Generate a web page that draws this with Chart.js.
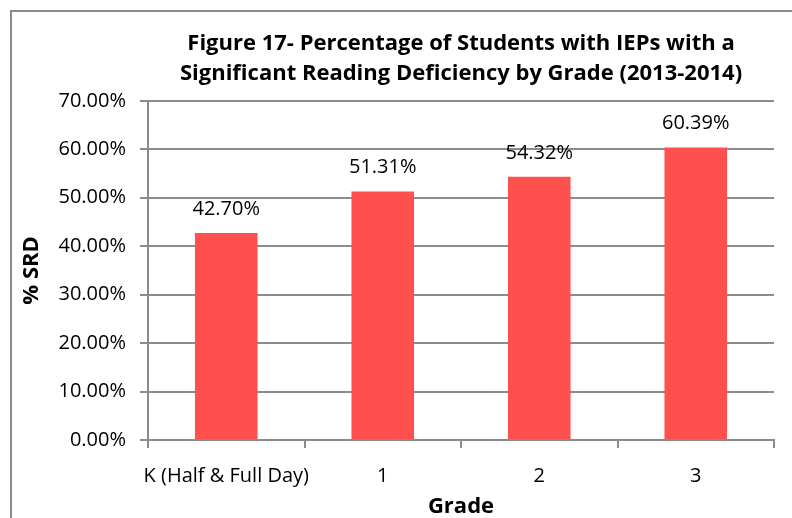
<!DOCTYPE html>
<html>
<head>
<meta charset="utf-8">
<script src="https://cdn.jsdelivr.net/npm/chart.js@4"></script>
<style>
  html, body { margin: 0; padding: 0; background: #fff; }
  #wrap { width: 792px; height: 518px; position: relative; }
</style>
</head>
<body>
<div id="wrap"><canvas id="chart" width="792" height="518"></canvas></div>
<script>
const grades = ['K (Half & Full Day)', '1', '2', '3'];
const srd_percent = [42.70, 51.31, 54.32, 60.39];
const title_lines = [
  'Figure 17- Percentage of Students with IEPs with a',
  'Significant Reading Deficiency by Grade (2013-2014)'
];

const font_family = "'Open Sans', 'Noto Sans', sans-serif"
const grid_color = '#8c8c8c'

// outer frame like the excel chart area (cut off at right/bottom)
const frame = {
  id: 'frame',
  beforeDraw(chart) {
    const ctx = chart.ctx
    ctx.save()
    ctx.fillStyle = '#fff'
    ctx.fillRect(0, 0, chart.width, chart.height)
    ctx.strokeStyle = '#8c8c8c'
    ctx.lineWidth = 2
    ctx.strokeRect(11, 11, chart.width + 20, chart.height + 20)
    ctx.restore()
  }
}

// value labels above each bar
const bar_labels = {
  id: 'bar_labels',
  afterDatasetsDraw(chart) {
    const ctx = chart.ctx
    const meta = chart.getDatasetMeta(0)
    ctx.save()
    ctx.font = '20px ' + font_family
    ctx.fillStyle = '#000'
    ctx.textAlign = 'center'
    ctx.textBaseline = 'middle'
    meta.data.forEach((bar, i) => {
      ctx.fillText(srd_percent[i].toFixed(2) + '%', bar.x, bar.y - 24)
    })
    ctx.restore()
  }
}

new Chart(document.getElementById('chart'), {
  type: 'bar',
  data: {
    labels: grades,
    datasets: [{
      data: srd_percent,
      backgroundColor: '#ff5050',
      borderWidth: 0,
      categoryPercentage: 1,
      barPercentage: 0.4
    }]
  },
  options: {
    responsive: false,
    animation: false,
    layout: { padding: { left: 0, right: 18, top: 0, bottom: 0 } },
    plugins: {
      legend: { display: false },
      tooltip: { enabled: false },
      title: {
        display: true,
        fullSize: false,
        text: title_lines,
        color: '#000',
        font: { family: font_family, size: 22, weight: 'bold', lineHeight: 1.36 },
        padding: { top: 29, bottom: 12 }
      }
    },
    scales: {
      x: {
        afterFit: (scale) => { scale.height = 78 },
        grid: {
          offset: true,
          drawOnChartArea: false,
          color: grid_color,
          lineWidth: 2,
          tickLength: 8
        },
        border: { color: grid_color, width: 2 },
        ticks: {
          color: '#000',
          font: { family: font_family, size: 20 },
          padding: 16,
          maxRotation: 0,
          autoSkip: false
        },
        title: {
          display: true,
          text: 'Grade',
          color: '#000',
          font: { family: font_family, size: 22, weight: 'bold', lineHeight: 1.0 },
          padding: { top: 0, bottom: 0 }
        }
      },
      y: {
        min: 0,
        max: 70,
        afterFit: (scale) => { scale.width = 148 },
        grid: {
          color: grid_color,
          lineWidth: 2,
          tickLength: 8
        },
        border: { color: grid_color, width: 2 },
        ticks: {
          stepSize: 10,
          color: '#000',
          font: { family: font_family, size: 20 },
          padding: 14,
          callback: (v) => v.toFixed(2) + '%'
        },
        title: {
          display: true,
          text: '% SRD',
          color: '#000',
          font: { family: font_family, size: 22, weight: 'bold', lineHeight: 1.2 },
          padding: { top: 19, bottom: 0 }
        }
      }
    }
  },
  plugins: [frame, bar_labels]
})
</script>
</body>
</html>
